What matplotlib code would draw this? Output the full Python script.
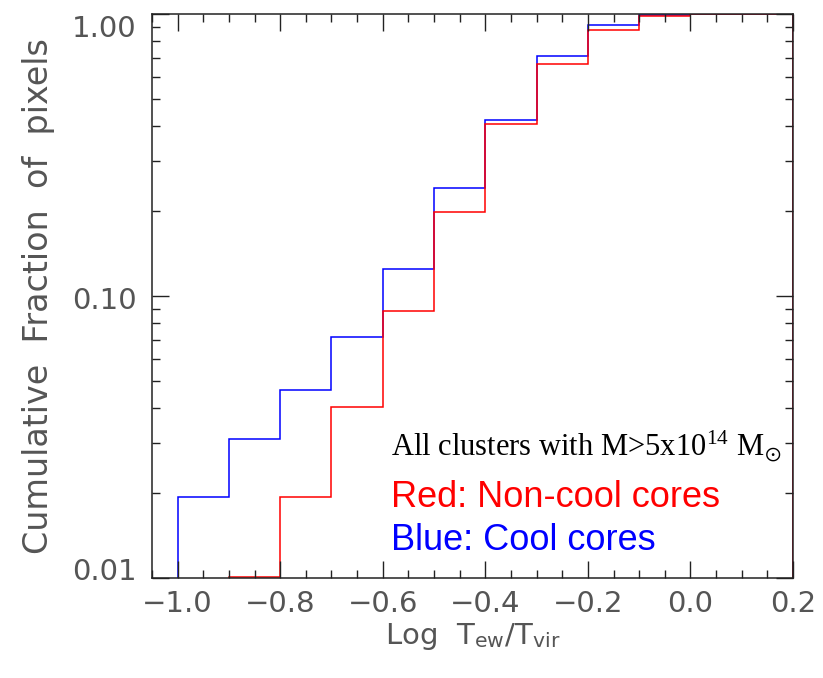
import numpy as np
import matplotlib
matplotlib.use("Agg")
import matplotlib.pyplot as plt
from matplotlib.ticker import FixedLocator, FixedFormatter, MultipleLocator
from matplotlib.transforms import ScaledTranslation

plt.rcParams["mathtext.fontset"] = "stix"

# cumulative fractions per bin of Log Tew/Tvir
blue_edges = [-1.0, -0.9, -0.8, -0.7, -0.6, -0.5, -0.4, -0.3, -0.2, -0.1, 0.0, 0.1, 0.2]
blue_vals = [0.0194, 0.0311, 0.0463, 0.0713, 0.125, 0.242, 0.420, 0.710, 0.917, 0.993, 1.0, 1.0]

red_edges = [-0.9, -0.8, -0.7, -0.6, -0.5, -0.4, -0.3, -0.2, -0.1, 0.0, 0.1, 0.2]
red_vals = [0.0101, 0.0194, 0.0405, 0.0888, 0.1993, 0.406, 0.663, 0.878, 0.981, 0.996, 1.0]

ytick_vals = [0.01, 0.1, 1.0]
ytick_labels = ["0.01", "0.10", "1.00"]
xtick_vals = [-1.0, -0.8, -0.6, -0.4, -0.2, 0.0, 0.2]
xtick_labels = ["\u22121.0", "\u22120.8", "\u22120.6", "\u22120.4", "\u22120.2", "0.0", "0.2"]

fig = plt.figure(figsize=(8.23, 6.78), dpi=100)
ax = fig.add_axes([0.1847, 0.1475, 0.9636 - 0.1847, 0.9794 - 0.1475])

ax.stairs(blue_vals, blue_edges, baseline=1e-3, color="blue", lw=1.1)
ax.stairs(red_vals, red_edges, baseline=1e-3, color="red", lw=1.1)

ax.set_yscale("log")
ax.set_xlim(-1.05, 0.2)
ax.set_ylim(0.01, 1.0)

tcol = "#555555"
ax.xaxis.set_major_locator(FixedLocator(xtick_vals))
ax.xaxis.set_major_formatter(FixedFormatter(xtick_labels))
ax.xaxis.set_minor_locator(MultipleLocator(0.05))
ax.yaxis.set_major_locator(FixedLocator(ytick_vals))
ax.yaxis.set_major_formatter(FixedFormatter(ytick_labels))
ax.tick_params(which="both", direction="in", top=True, right=True, width=1, color="#222222")
ax.tick_params(which="major", length=12, labelsize=21, labelcolor=tcol)
ax.tick_params(which="minor", length=6)
ax.tick_params(axis="x", pad=9)
ax.tick_params(axis="y", pad=11)
for s in ax.spines.values():
    s.set_color("#222222")
    s.set_linewidth(1.1)

# IDL-style shift of end labels
shifts = {"1.00": -0.12, "0.10": -0.02, "0.01": 0.09}
for lab in ax.yaxis.get_majorticklabels():
    dy = shifts.get(lab.get_text(), 0)
    lab.set_transform(lab.get_transform() + ScaledTranslation(0, dy, fig.dpi_scale_trans))

ax.set_ylabel("Cumulative  Fraction  of  pixels", fontsize=24, color=tcol, labelpad=12)
ax.set_xlabel("Log  T$_\\mathregular{ew}$/T$_\\mathregular{vir}$", fontsize=21, color=tcol, labelpad=2)

ax.text(0.373, 0.218, "All clusters with M>5x10$^{\\mathregular{14}}$ M$_{\\odot}$", transform=ax.transAxes,
        fontsize=22, family="Liberation Serif", color="black", va="baseline")
ax.text(0.373, 0.125, "Red: Non-cool cores", transform=ax.transAxes,
        fontsize=26, family="Liberation Sans", color="red", va="baseline")
ax.text(0.373, 0.049, "Blue: Cool cores", transform=ax.transAxes,
        fontsize=26, family="Liberation Sans", color="blue", va="baseline")

fig.savefig("out.png", dpi=100)
